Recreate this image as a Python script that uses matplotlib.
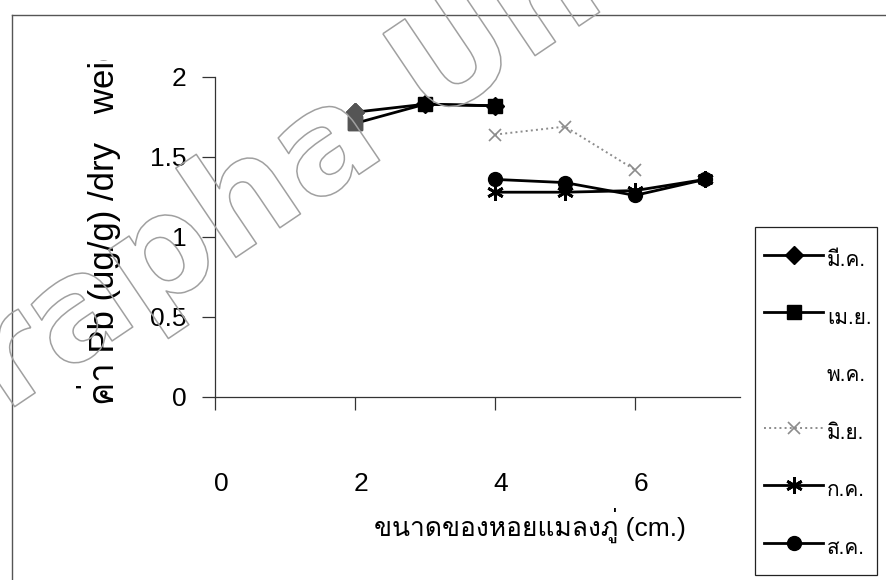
import matplotlib
matplotlib.use('Agg')
import matplotlib.pyplot as plt
import matplotlib.patheffects as pe
from matplotlib import font_manager as fm
from matplotlib.ft2font import FT2Font
from matplotlib.lines import Line2D
from matplotlib.patches import Rectangle
from matplotlib.transforms import Bbox, TransformedBbox, ScaledTranslation

## Data ##
months = ['มี.ค.', 'เม.ย.', 'พ.ค.', 'มิ.ย.', 'ก.ค.', 'ส.ค.']
mar_x = [2, 3, 4]
mar_y = [1.78, 1.83, 1.82]
apr_x = [2, 3, 4]
apr_y = [1.71, 1.83, 1.82]
may_x = []
may_y = []
jun_x = [4, 5, 6]
jun_y = [1.64, 1.69, 1.42]
jul_x = [4, 5, 6, 7]
jul_y = [1.28, 1.28, 1.29, 1.36]
aug_x = [4, 5, 6, 7]
aug_y = [1.36, 1.34, 1.26, 1.36]
x_ticks = [0, 2, 4, 6]
x_tick_labels = ['0', '2', '4', '6']
y_ticks = [0, 0.5, 1, 1.5, 2]
y_tick_labels = ['0', '0.5', '1', '1.5', '2']
x_label = 'ขนาดของหอยแมลงภู่ (cm.)'
y_label = 'ค่า Pb (ug/g) /dry   weight)'


# find some installed font that has Thai glyphs
def find_thai_font():
    for f in fm.fontManager.ttflist:
        try:
            if ord('ข') in FT2Font(f.fname).get_charmap():
                return f.name
        except Exception:
            pass
    return 'DejaVu Sans'


thai = find_thai_font()
plt.rcParams['font.family'] = ['Liberation Sans', thai, 'DejaVu Sans']

W, H = 886, 580
fig = plt.figure(figsize=(W / 100, H / 100), dpi=100)
ax = fig.add_axes([215 / W, 1 - 397 / H, 525 / W, 320 / H])

# series
ax.plot(mar_x, mar_y, color='black', lw=2, marker='D', ms=9, label=months[0], zorder=3)
ax.plot(apr_x, apr_y, color='black', lw=2, marker='s', ms=10, label=months[1], zorder=3)
ax.plot(may_x, may_y, linestyle='none', marker='none', label=months[2])
ax.plot(jun_x, jun_y, color='#8c8c8c', lw=1.4, ls=':', marker='x', ms=9, mew=1.2,
        label=months[3], zorder=2)
ax.plot(jul_x, jul_y, color='black', lw=2, marker=(6, 2, 0), ms=12, mew=2,
        label=months[4], zorder=3)
ax.plot(aug_x, aug_y, color='black', lw=2, marker='o', ms=10, label=months[5], zorder=3)
# first points of the first two series came out grey in the scan
ax.plot(mar_x[:1], mar_y[:1], linestyle='none', marker='D', ms=9, color='#555555', zorder=4)
ax.plot(apr_x[:1], apr_y[:1], linestyle='none', marker='s', ms=10, color='#555555', zorder=4)

ax.set_xlim(0, 7.5)
ax.set_ylim(0, 2)
ax.set_xticks(x_ticks)
ax.set_xticklabels(x_tick_labels)
ax.set_yticks(y_ticks)
ax.set_yticklabels(y_tick_labels)
for s in ['top', 'right']:
    ax.spines[s].set_visible(False)
for s in ['left', 'bottom']:
    ax.spines[s].set_color('#333333')
    ax.spines[s].set_linewidth(0.9)
ax.tick_params(axis='y', direction='out', length=9.5, width=0.9, pad=11,
               labelsize=19, color='#333333')
ax.tick_params(axis='x', direction='out', length=9, width=0.9, pad=45,
               labelsize=19, color='#333333')
# x tick labels sit a little right of their ticks in the original
shift = ScaledTranslation(6 / 100, 0, fig.dpi_scale_trans)
for lab in ax.get_xticklabels():
    lab.set_transform(lab.get_transform() + shift)
ax.set_facecolor('none')

fig.text(530 / W, 1 - 525 / H, x_label, ha='center', va='center', fontsize=19)
yl = fig.text(99 / W, 1 - 405 / H, y_label, rotation=90, ha='center', va='bottom',
              fontsize=25)
yl.set_clip_box(TransformedBbox(Bbox([[0, 0], [1, 1 - 60 / H]]), fig.transFigure))
yl.set_clip_on(True)

# legend entries without frame, box drawn separately
leg = fig.legend(loc='upper left', bbox_to_anchor=(755 / W, 1 - 234 / H),
                 fontsize=15, frameon=False,
                 handlelength=2.8, handleheight=2.0, handletextpad=0.2,
                 labelspacing=1.22, borderpad=0.45, borderaxespad=0)
fig.add_artist(Rectangle((755 / W, 1 - 575 / H), 122 / W, 348 / H, fill=False,
                         ec='#222222', lw=0.9))

# outer chart border (partly lost in the scan)
fig.add_artist(Line2D([12 / W, 1], [1 - 15 / H] * 2, color='#555555', lw=1))
fig.add_artist(Line2D([12 / W] * 2, [0, 1 - 15 / H], color='#555555', lw=1))

# watermark, outline only
fig.text(447 / W, 1 - 68 / H, 'Burapha University', ha='center', va='center',
         rotation=34, rotation_mode='anchor', fontsize=102, fontweight='bold',
         family='DejaVu Sans', color=(1, 1, 1, 0), zorder=10,
         path_effects=[pe.Stroke(linewidth=1.1, foreground='#a0a0a0')])

fig.savefig('out.png', dpi=100)
